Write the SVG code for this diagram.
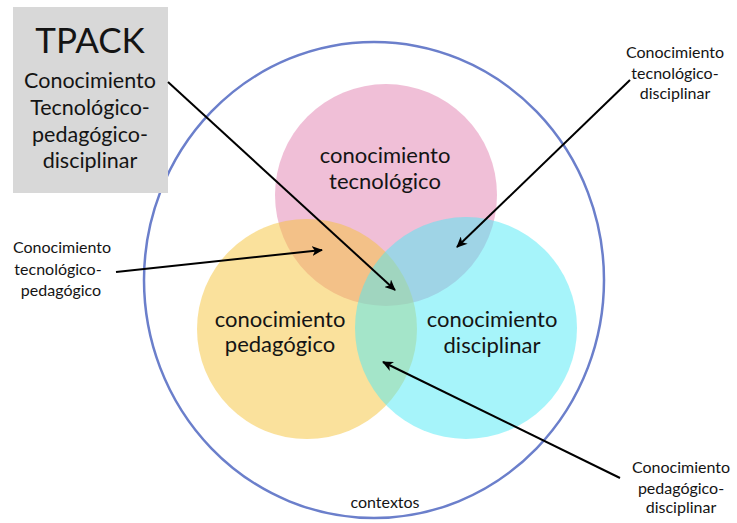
<svg xmlns="http://www.w3.org/2000/svg" width="737" height="523" viewBox="0 0 737 523">
<defs>
<style>
text{font-family:Lato,"Liberation Sans",sans-serif;fill:#141414;text-anchor:middle}
.big{font-size:22px}
.lbl{font-size:16px}
.ttl{font-size:21.5px}
.conn line{stroke:#000;stroke-width:2;marker-end:url(#ah)}
.c{fill-opacity:0.5}
</style>
<marker id="ah" markerWidth="12" markerHeight="10" refX="10" refY="5" orient="auto" markerUnits="userSpaceOnUse">
<path d="M0,0 L11,5 L0,10 L3,5 Z" fill="#000"/>
</marker>
</defs>
<rect width="737" height="523" fill="#fff"/>
<g id="contextos">
<ellipse cx="374" cy="280" rx="230" ry="238" fill="none" stroke="#6b7fcb" stroke-width="2.5"/>
<text x="385" y="508" style="font-size:16px">contextos</text>
</g>
<g id="tecnologico">
<circle class="c" cx="386" cy="195" r="111" fill="#e27fb0"/>
</g>
<g id="pedagogico">
<circle class="c" cx="307" cy="329" r="110" fill="#f5c43a"/>
</g>
<g id="disciplinar">
<circle class="c" cx="466" cy="328" r="111" fill="#4deaf5"/>
</g>
<g id="labels-circles">
<text class="big" x="385" y="163">conocimiento</text>
<text class="big" x="385" y="189">tecnológico</text>
<text class="big" x="280" y="327">conocimiento</text>
<text class="big" x="280" y="352">pedagógico</text>
<text class="big" x="492" y="327">conocimiento</text>
<text class="big" x="492" y="353">disciplinar</text>
</g>
<g id="tpack">
<rect x="13" y="7" width="155" height="186" fill="#d8d8d8"/>
<text x="90" y="53" style="font-size:35px">TPACK</text>
<text class="ttl" x="90" y="88">Conocimiento</text>
<text class="ttl" x="90" y="115">Tecnológico-</text>
<text class="ttl" x="90" y="142">pedagógico-</text>
<text class="ttl" x="90" y="168">disciplinar</text>
</g>
<g id="tp-label">
<text class="lbl" x="62" y="253">Conocimiento</text>
<text class="lbl" x="58" y="275">tecnológico-</text>
<text class="lbl" x="61" y="296">pedagógico</text>
</g>
<g id="td-label">
<text class="lbl" x="675" y="58">Conocimiento</text>
<text class="lbl" x="675" y="79">tecnológico-</text>
<text class="lbl" x="675" y="99">disciplinar</text>
</g>
<g id="pd-label">
<text class="lbl" x="681" y="473">Conocimiento</text>
<text class="lbl" x="681" y="494">pedagógico-</text>
<text class="lbl" x="681" y="513">disciplinar</text>
</g>
<g class="conn" id="connectors">
<line x1="168" y1="82" x2="395" y2="290"/>
<line x1="116" y1="272" x2="322" y2="250"/>
<line x1="630" y1="80" x2="457" y2="247"/>
<line x1="620" y1="478" x2="383" y2="362"/>
</g>
</svg>
